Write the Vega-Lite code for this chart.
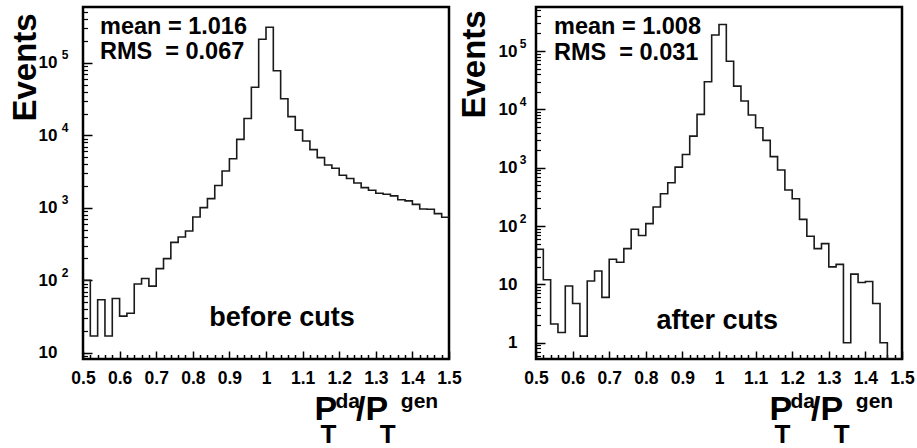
{
  "$schema": "https://vega.github.io/schema/vega-lite/v6.json",
  "background": "white",
  "padding": {"left": 7, "top": 5, "right": 2, "bottom": 1},
  "spacing": 87,
  "bounds": "flush",
  "datasets": {
    "before": [
      {"x": 0.50, "n": 100}, {"x": 0.52, "n": 17}, {"x": 0.54, "n": 54}, {"x": 0.56, "n": 17}, {"x": 0.58, "n": 56},
      {"x": 0.60, "n": 32}, {"x": 0.62, "n": 35}, {"x": 0.64, "n": 89}, {"x": 0.66, "n": 106}, {"x": 0.68, "n": 83},
      {"x": 0.70, "n": 145}, {"x": 0.72, "n": 199}, {"x": 0.74, "n": 334}, {"x": 0.76, "n": 395}, {"x": 0.78, "n": 478},
      {"x": 0.80, "n": 748}, {"x": 0.82, "n": 1005}, {"x": 0.84, "n": 1340}, {"x": 0.86, "n": 2030}, {"x": 0.88, "n": 3220},
      {"x": 0.90, "n": 4750}, {"x": 0.92, "n": 8800}, {"x": 0.94, "n": 17100}, {"x": 0.96, "n": 46000}, {"x": 0.98, "n": 212000},
      {"x": 1.00, "n": 310000}, {"x": 1.02, "n": 78000}, {"x": 1.04, "n": 32000}, {"x": 1.06, "n": 18100}, {"x": 1.08, "n": 11800},
      {"x": 1.10, "n": 8350}, {"x": 1.12, "n": 6350}, {"x": 1.14, "n": 4920}, {"x": 1.16, "n": 3900}, {"x": 1.18, "n": 3520},
      {"x": 1.20, "n": 2820}, {"x": 1.22, "n": 2540}, {"x": 1.24, "n": 2200}, {"x": 1.26, "n": 1900}, {"x": 1.28, "n": 1750},
      {"x": 1.30, "n": 1585}, {"x": 1.32, "n": 1540}, {"x": 1.34, "n": 1460}, {"x": 1.36, "n": 1290}, {"x": 1.38, "n": 1245},
      {"x": 1.40, "n": 1115}, {"x": 1.42, "n": 965}, {"x": 1.44, "n": 955}, {"x": 1.46, "n": 830}, {"x": 1.48, "n": 740},
      {"x": 1.50, "n": 740}
    ],
    "after": [
      {"x": 0.50, "n": 40}, {"x": 0.52, "n": 12}, {"x": 0.54, "n": 2.1}, {"x": 0.56, "n": 1.5}, {"x": 0.58, "n": 9.4},
      {"x": 0.60, "n": 4.7}, {"x": 0.62, "n": 1.3}, {"x": 0.64, "n": 11.4}, {"x": 0.66, "n": 17}, {"x": 0.68, "n": 6},
      {"x": 0.70, "n": 27}, {"x": 0.72, "n": 24}, {"x": 0.74, "n": 41}, {"x": 0.76, "n": 88}, {"x": 0.78, "n": 69},
      {"x": 0.80, "n": 110}, {"x": 0.82, "n": 212}, {"x": 0.84, "n": 358}, {"x": 0.86, "n": 553}, {"x": 0.88, "n": 1025},
      {"x": 0.90, "n": 1690}, {"x": 0.92, "n": 3480}, {"x": 0.94, "n": 8200}, {"x": 0.96, "n": 29800}, {"x": 0.98, "n": 188000},
      {"x": 1.00, "n": 286000}, {"x": 1.02, "n": 67000}, {"x": 1.04, "n": 25000}, {"x": 1.06, "n": 13900}, {"x": 1.08, "n": 8000},
      {"x": 1.10, "n": 4850}, {"x": 1.12, "n": 2940}, {"x": 1.14, "n": 1550}, {"x": 1.16, "n": 915}, {"x": 1.18, "n": 414},
      {"x": 1.20, "n": 294}, {"x": 1.22, "n": 130}, {"x": 1.24, "n": 67}, {"x": 1.26, "n": 41}, {"x": 1.28, "n": 50},
      {"x": 1.30, "n": 20}, {"x": 1.32, "n": 22}, {"x": 1.34, "n": 1}, {"x": 1.36, "n": 15}, {"x": 1.38, "n": 10.8},
      {"x": 1.40, "n": 11.2}, {"x": 1.42, "n": 4.7}, {"x": 1.44, "n": 1}, {"x": 1.46, "n": 0}, {"x": 1.48, "n": 0},
      {"x": 1.50, "n": 0}
    ]
  },
  "config": {
    "view": {"stroke": "black", "strokeWidth": 2.5, "fill": "white"},
    "axis": {
      "grid": false, "domain": false,
      "labelFont": "Liberation Sans", "labelFontWeight": "bold", "labelColor": "black",
      "tickColor": "black",
      "titleFont": "Liberation Sans", "titleFontWeight": "bold", "titleColor": "black"
    },
    "text": {"font": "Liberation Sans", "fontWeight": "bold", "color": "black"}
  },
  "hconcat": [
    {
      "width": 366, "height": 352,
      "layer": [
        {
          "data": {"name": "before"},
          "mark": {"type": "line", "interpolate": "step-after", "color": "#1a1a1a", "strokeWidth": 1.6, "clip": true},
          "encoding": {
            "x": {"field": "x", "type": "quantitative",
              "scale": {"domain": [0.5, 1.5], "nice": false, "zero": false},
              "axis": {"orient": "bottom", "values": [0.5, 0.6, 0.7, 0.8, 0.9, 1, 1.1, 1.2, 1.3, 1.4, 1.5], "format": ".1~f",
                "labelFontSize": 17.5, "labelFlush": false, "labelOverlap": false, "labelPadding": 18.5,
                "tickSize": -8, "tickWidth": 1.5,
                "title": "P\u00a0\u00a0/P", "titleFontSize": 34, "titleX": 231, "titleY": 60, "titleAlign": "left", "titleBaseline": "alphabetic"}},
            "y": {"field": "n", "type": "quantitative",
              "scale": {"type": "log", "domain": [8.2, 590000], "nice": false, "clamp": true},
              "axis": {"orient": "left", "values": [10, 100, 1000, 10000, 100000], "labelExpr": "datum.value < 5 ? '1' : '10'",
                "labelFontSize": 17, "labelPadding": 35, "labelOverlap": false,
                "tickSize": -9, "tickWidth": 1.5,
                "title": "Events", "titleFontSize": 33, "titleAngle": 270, "titleX": -48, "titleY": 114, "titleAlign": "left", "titleBaseline": "alphabetic"}}
          }
        },
        {
          "data": {"values": [{}]},
          "mark": {"type": "text", "text": ["mean = 1.016", "RMS\u00a0 = 0.067"], "align": "left", "baseline": "alphabetic", "fontSize": 23.5, "lineHeight": 25},
          "encoding": {
            "x": {"datum": 0.5464, "type": "quantitative",
              "axis": {"orient": "bottom", "values": [0.52,0.54,0.56,0.58,0.62,0.64,0.66,0.68,0.72,0.74,0.76,0.78,0.82,0.84,0.86,0.88,0.92,0.94,0.96,0.98,1.02,1.04,1.06,1.08,1.12,1.14,1.16,1.18,1.22,1.24,1.26,1.28,1.32,1.34,1.36,1.38,1.42,1.44,1.46,1.48],
                "labels": false, "tickSize": -4.5, "tickWidth": 1.5,
                "title": "T\u00a0\u00a0\u00a0\u00a0\u00a0\u00a0T", "titleFontSize": 26, "titleX": 237, "titleY": 83, "titleAlign": "left", "titleBaseline": "alphabetic"}},
            "y": {"datum": 249000, "type": "quantitative",
              "axis": {"orient": "left", "values": [9,20,30,40,50,60,70,80,90,200,300,400,500,600,700,800,900,2000,3000,4000,5000,6000,7000,8000,9000,20000,30000,40000,50000,60000,70000,80000,90000,200000,300000,400000,500000],
                "labels": false, "tickSize": -4.5, "tickWidth": 1.2, "title": null}}
          }
        },
        {
          "data": {"values": [{}]},
          "mark": {"type": "text", "text": "before cuts", "align": "left", "baseline": "alphabetic", "fontSize": 27},
          "encoding": {
            "x": {"datum": 0.845, "type": "quantitative",
              "axis": {"orient": "bottom", "ticks": false, "tickSize": 0, "labels": false,
                "title": "da\u00a0\u00a0\u00a0\u00a0\u00a0\u00a0\u00a0gen", "titleFontSize": 21, "titleX": 252, "titleY": 48, "titleAlign": "left", "titleBaseline": "alphabetic"}},
            "y": {"datum": 23.4, "type": "quantitative",
              "axis": {"orient": "left", "values": [100, 1000, 10000, 100000], "ticks": false, "tickSize": 0,
                "labelExpr": "format(log(datum.value)/LN10, '.0f')", "labelFontSize": 12, "labelPadding": 15, "labelOffset": -8, "labelOverlap": false,
                "title": null}}
          }
        }
      ],
      "resolve": {"axis": {"x": "independent", "y": "independent"}}
    },
    {
      "width": 366, "height": 352,
      "layer": [
        {
          "data": {"name": "after"},
          "mark": {"type": "line", "interpolate": "step-after", "color": "#1a1a1a", "strokeWidth": 1.6, "clip": true},
          "encoding": {
            "x": {"field": "x", "type": "quantitative",
              "scale": {"domain": [0.5, 1.5], "nice": false, "zero": false},
              "axis": {"orient": "bottom", "values": [0.5, 0.6, 0.7, 0.8, 0.9, 1, 1.1, 1.2, 1.3, 1.4, 1.5], "format": ".1~f",
                "labelFontSize": 17.5, "labelFlush": false, "labelOverlap": false, "labelPadding": 18.5,
                "tickSize": -8, "tickWidth": 1.5,
                "title": "P\u00a0\u00a0/P", "titleFontSize": 34, "titleX": 233, "titleY": 60, "titleAlign": "left", "titleBaseline": "alphabetic"}},
            "y": {"field": "n", "type": "quantitative",
              "scale": {"type": "log", "domain": [0.526, 569000], "nice": false, "clamp": true},
              "axis": {"orient": "left", "values": [1, 10, 100, 1000, 10000, 100000], "labelExpr": "datum.value < 5 ? '1' : '10'",
                "labelFontSize": 17, "labelPadding": 28, "labelOverlap": false,
                "tickSize": -9, "tickWidth": 1.5,
                "title": "Events", "titleFontSize": 33, "titleAngle": 270, "titleX": -52, "titleY": 111, "titleAlign": "left", "titleBaseline": "alphabetic"}}
          }
        },
        {
          "data": {"values": [{}]},
          "mark": {"type": "text", "text": ["mean = 1.008", "RMS\u00a0 = 0.031"], "align": "left", "baseline": "alphabetic", "fontSize": 23.5, "lineHeight": 26},
          "encoding": {
            "x": {"datum": 0.5492, "type": "quantitative",
              "axis": {"orient": "bottom", "values": [0.52,0.54,0.56,0.58,0.62,0.64,0.66,0.68,0.72,0.74,0.76,0.78,0.82,0.84,0.86,0.88,0.92,0.94,0.96,0.98,1.02,1.04,1.06,1.08,1.12,1.14,1.16,1.18,1.22,1.24,1.26,1.28,1.32,1.34,1.36,1.38,1.42,1.44,1.46,1.48],
                "labels": false, "tickSize": -4.5, "tickWidth": 1.5,
                "title": "T\u00a0\u00a0\u00a0\u00a0\u00a0\u00a0T", "titleFontSize": 26, "titleX": 238, "titleY": 83, "titleAlign": "left", "titleBaseline": "alphabetic"}},
            "y": {"datum": 196300, "type": "quantitative",
              "axis": {"orient": "left", "values": [0.6,0.7,0.8,0.9,2,3,4,5,6,7,8,9,20,30,40,50,60,70,80,90,200,300,400,500,600,700,800,900,2000,3000,4000,5000,6000,7000,8000,9000,20000,30000,40000,50000,60000,70000,80000,90000,200000,300000,400000,500000],
                "labels": false, "tickSize": -4.5, "tickWidth": 1.2, "title": null}}
          }
        },
        {
          "data": {"values": [{}]},
          "mark": {"type": "text", "text": "after cuts", "align": "left", "baseline": "alphabetic", "fontSize": 27},
          "encoding": {
            "x": {"datum": 0.8290, "type": "quantitative",
              "axis": {"orient": "bottom", "ticks": false, "tickSize": 0, "labels": false,
                "title": "da\u00a0\u00a0\u00a0\u00a0\u00a0\u00a0\u00a0gen", "titleFontSize": 21, "titleX": 254, "titleY": 48, "titleAlign": "left", "titleBaseline": "alphabetic"}},
            "y": {"datum": 1.72, "type": "quantitative",
              "axis": {"orient": "left", "values": [100, 1000, 10000, 100000], "ticks": false, "tickSize": 0,
                "labelExpr": "format(log(datum.value)/LN10, '.0f')", "labelFontSize": 12, "labelPadding": 10, "labelOffset": -8, "labelOverlap": false,
                "title": null}}
          }
        }
      ],
      "resolve": {"axis": {"x": "independent", "y": "independent"}}
    }
  ]
}
